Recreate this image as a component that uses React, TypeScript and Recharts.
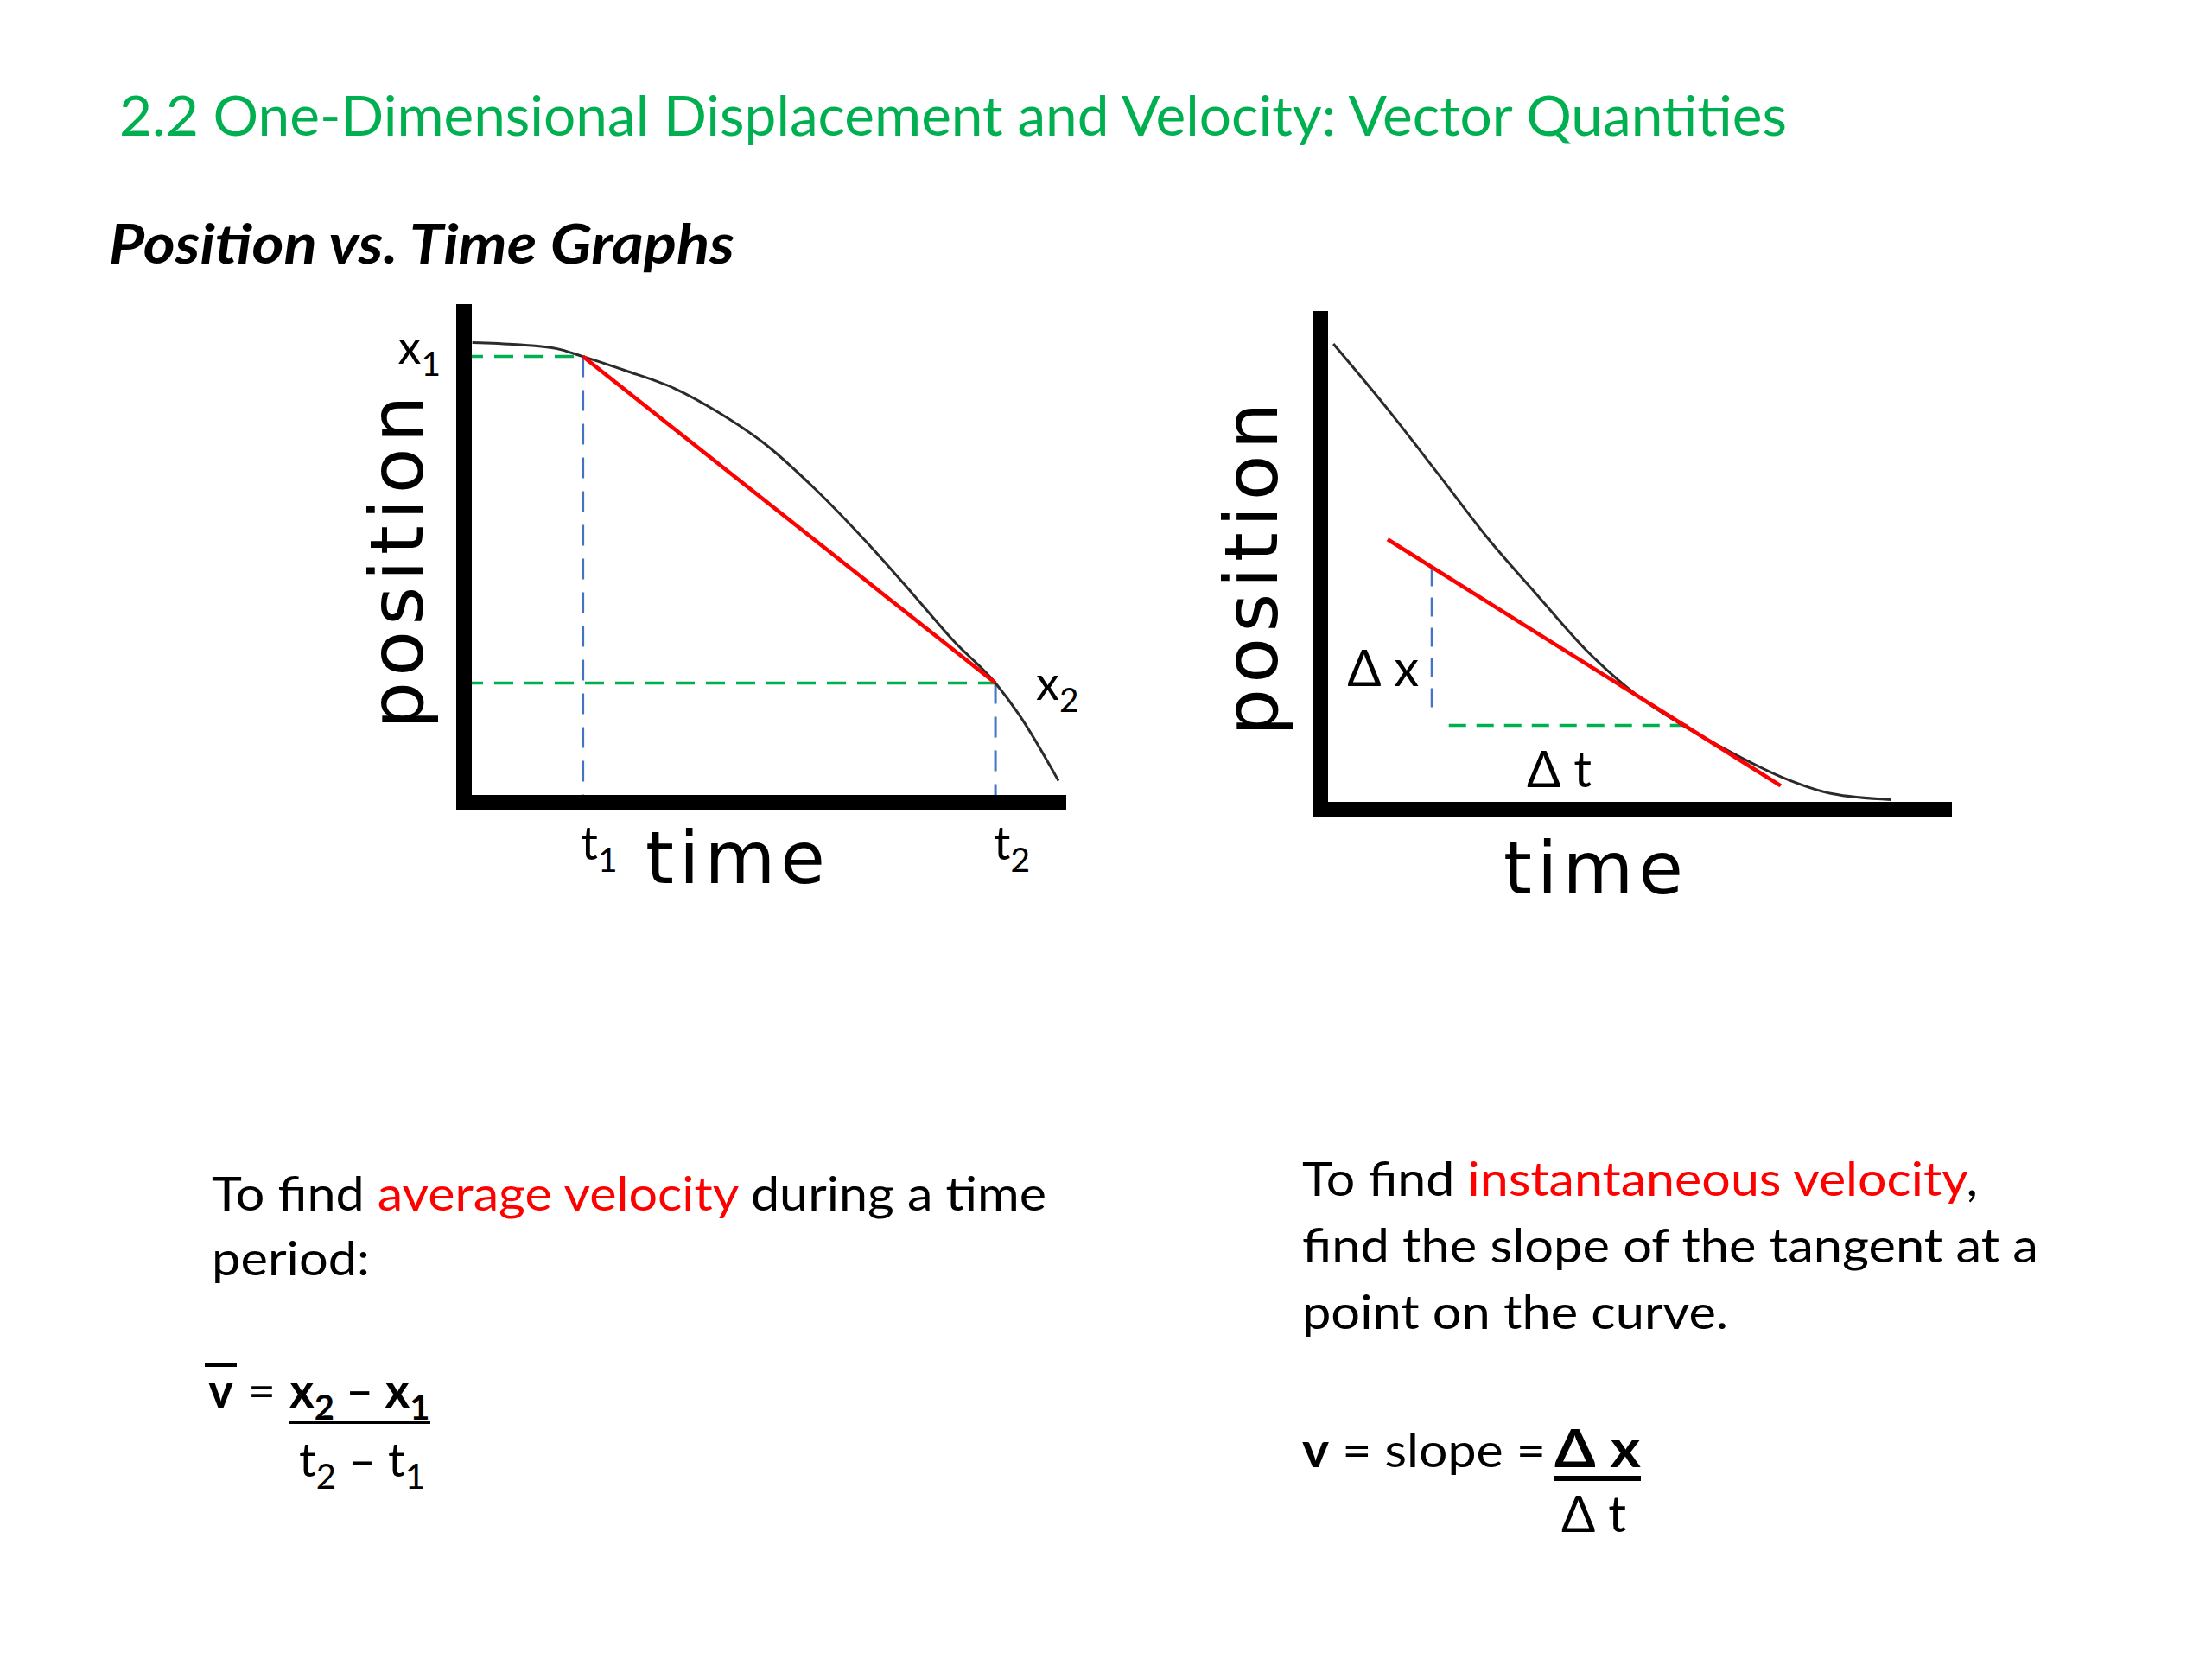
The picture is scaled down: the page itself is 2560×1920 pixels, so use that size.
import React from "react";
import { LineChart, Line, XAxis, YAxis, ReferenceLine, ReferenceDot, Label } from "recharts";

// values are read off the slide as % of each axis span
// left graph: average velocity
const avgTime = [1.4, 8.9, 15.5, 20.0, 27.1, 35.4, 42.8, 50.8, 59.0, 67.7, 75.4, 82.4, 89.4, 93.4, 100];
const avgPosition = [92.3, 91.9, 91.1, 89.5, 86.7, 83.1, 78.3, 71.8, 63.0, 52.3, 42.0, 32.4, 24.0, 17.6, 4.4];
const avgTimeTicks = [20.0, 89.4];
const avgPositionTicks = [89.5, 24.0];
const tickSubs = ["1", "2"];

// right graph: instantaneous velocity
const instTime = [2.1, 11.2, 19.1, 27.0, 34.8, 42.7, 50.6, 58.4, 66.3, 74.2, 82.0, 91.5];
const instPosition = [93.4, 79.7, 67.0, 54.2, 43.0, 31.9, 23.1, 16.7, 11.2, 6.4, 3.2, 2.0];
const tangentTime = [10.8, 73.8];
const tangentPosition = [54.2, 4.8];
const riseTime = 17.9;
const risePosition = [48.6, 19.9];
const runPosition = 16.9;
const runTime = [20.6, 59.3];

const toPoints = (ts: number[], xs: number[]) => ts.map((t, i) => ({ t, x: xs[i] }));

const GREEN = "#00b050";
const RED = "#ff0000";
const BLUE = "#4472c4";
const CURVE = "#2b2b2b";
const BODY = "Lato, 'Open Sans', sans-serif";
const GRAPH = "'DejaVu Sans', Verdana, sans-serif";

const xAxisLine = { stroke: "#000", strokeWidth: 18, strokeLinecap: "square" as const };
const yAxisLine = { stroke: "#000", strokeWidth: 18 };

function SubText({ x, y, base, sub, size = 54, anchor = "start", bold = false }: any) {
  return (
    <text x={x} y={y} textAnchor={anchor} fontFamily={BODY} fontSize={size} fontWeight={bold ? 700 : 400} fill="#000">
      {base}
      <tspan fontSize={size * 0.72} dy={size * 0.26}>{sub}</tspan>
    </text>
  );
}

const timeLabel = (dx: number, dy: number) => (p: any) => {
  const vb = p.viewBox;
  return (
    <text x={vb.x + vb.width / 2 + dx} y={vb.y + dy} textAnchor="middle" fontFamily={GRAPH} fontSize={84} letterSpacing={6} fill="#000">
      time
    </text>
  );
};

const positionLabel = (dx: number, dy: number) => (p: any) => {
  const vb = p.viewBox;
  const cx = vb.x + vb.width + dx;
  const cy = vb.y + vb.height / 2 + dy;
  return (
    <text x={cx} y={cy} transform={`rotate(-90 ${cx} ${cy})`} textAnchor="middle" fontFamily={GRAPH} fontSize={86} letterSpacing={6.5} fill="#000">
      position
    </text>
  );
};

function AverageGraph() {
  const curve = toPoints(avgTime, avgPosition);
  const secant = toPoints(avgTimeTicks, avgPositionTicks);
  const [t1, t2] = avgTimeTicks;
  const [x1, x2] = avgPositionTicks;
  return (
    <LineChart width={898} height={757} margin={{ top: 50, right: 60, left: 0, bottom: 0 }}>
      <XAxis
        type="number"
        dataKey="t"
        domain={[0, 100]}
        height={130}
        axisLine={xAxisLine}
        tickLine={false}
        ticks={avgTimeTicks}
        tick={(p: any) => <SubText key={p.index} x={p.x - 2} y={p.y + 58} base="t" sub={tickSubs[p.index]} />}
      >
        <Label content={timeLabel(-27, 93)} />
      </XAxis>
      <YAxis
        type="number"
        domain={[0, 100]}
        width={150}
        axisLine={yAxisLine}
        tickLine={false}
        ticks={[x1]}
        tick={(p: any) => <SubText key={p.index} x={p.x - 19} y={p.y + 8} base="x" sub="1" anchor="end" />}
      >
        <Label content={positionLabel(-48, 7)} />
      </YAxis>
      <ReferenceLine segment={[{ x: 0, y: x1 }, { x: t1, y: x1 }]} stroke={GREEN} strokeWidth={3.5} strokeDasharray="22 13" />
      <ReferenceLine segment={[{ x: 0, y: x2 }, { x: t2, y: x2 }]} stroke={GREEN} strokeWidth={3.5} strokeDasharray="22 13" />
      <ReferenceLine segment={[{ x: t1, y: x1 }, { x: t1, y: 0 }]} stroke={BLUE} strokeWidth={3} strokeDasharray="24 15" />
      <ReferenceLine segment={[{ x: t2, y: x2 }, { x: t2, y: 0 }]} stroke={BLUE} strokeWidth={3} strokeDasharray="24 15" />
      <Line data={curve} dataKey="x" type="monotone" stroke={CURVE} strokeWidth={3} dot={false} activeDot={false} isAnimationActive={false} />
      <Line data={secant} dataKey="x" type="linear" stroke={RED} strokeWidth={4.5} dot={false} activeDot={false} isAnimationActive={false} />
      <ReferenceDot
        x={t2}
        y={x2}
        r={1}
        fill="none"
        stroke="none"
        label={(p: any) => <SubText x={p.viewBox.x + 48} y={p.viewBox.y + 20} base="x" sub="2" />}
      />
    </LineChart>
  );
}

function InstantGraph() {
  const curve = toPoints(instTime, instPosition);
  const tangent = toPoints(tangentTime, tangentPosition);
  return (
    <LineChart width={932} height={757} margin={{ top: 50, right: 60, left: 0, bottom: 0 }}>
      <XAxis type="number" dataKey="t" domain={[0, 100]} height={130} axisLine={xAxisLine} tickLine={false} tick={false}>
        <Label content={timeLabel(-42, 97)} />
      </XAxis>
      <YAxis type="number" domain={[0, 100]} width={150} axisLine={yAxisLine} tickLine={false} tick={false}>
        <Label content={positionLabel(-50, 7)} />
      </YAxis>
      <ReferenceLine
        segment={[{ x: riseTime, y: risePosition[0] }, { x: riseTime, y: risePosition[1] }]}
        stroke={BLUE}
        strokeWidth={3}
        strokeDasharray="22 13"
        label={(p: any) => (
          <text x={p.viewBox.x - 15} y={p.viewBox.y + 137} textAnchor="end" fontFamily={BODY} fontSize={58} fill="#000">
            Δ x
          </text>
        )}
      />
      <ReferenceLine
        segment={[{ x: runTime[0], y: runPosition }, { x: runTime[1], y: runPosition }]}
        stroke={GREEN}
        strokeWidth={3.5}
        strokeDasharray="20 12"
        label={(p: any) => (
          <text x={p.viewBox.x + p.viewBox.width / 2 - 12} y={p.viewBox.y + 72} textAnchor="middle" fontFamily={BODY} fontSize={58} fill="#000">
            Δ t
          </text>
        )}
      />
      <Line data={curve} dataKey="x" type="monotone" stroke={CURVE} strokeWidth={3} dot={false} activeDot={false} isAnimationActive={false} />
      <Line data={tangent} dataKey="x" type="linear" stroke={RED} strokeWidth={4.5} dot={false} activeDot={false} isAnimationActive={false} />
    </LineChart>
  );
}

function SlideText() {
  const body = { fontFamily: BODY, fontSize: 55, fill: "#000" };
  return (
    <svg width={2560} height={1920} style={{ position: "absolute", left: 0, top: 0 }}>
      <text x={138} y={157} fontFamily={BODY} fontSize={64} fill={GREEN} textLength={1930} lengthAdjust="spacingAndGlyphs">
        2.2 One-Dimensional Displacement and Velocity: Vector Quantities
      </text>
      <text x={126} y={305} fontFamily={BODY} fontSize={64} fontWeight={700} fontStyle="italic" fill="#000" textLength={724} lengthAdjust="spacingAndGlyphs">
        Position vs. Time Graphs
      </text>

      {/* average velocity */}
      <text x={245} y={1401} {...body} textLength={966} lengthAdjust="spacingAndGlyphs">
        To find <tspan fill={RED}>average velocity</tspan> during a time
      </text>
      <text x={245} y={1476} {...body} textLength={183} lengthAdjust="spacingAndGlyphs">
        period:
      </text>
      <line x1={237} x2={274} y1={1580} y2={1580} stroke="#000" strokeWidth={4} />
      <text x={241} y={1629} {...body} fontWeight={700}>v</text>
      <text x={287} y={1629} {...body}>=</text>
      <text x={335} y={1629} {...body} fontWeight={700}>
        x<tspan fontSize={40} dy={14}>2</tspan>
        <tspan dy={-14}> – x</tspan>
        <tspan fontSize={40} dy={14}>1</tspan>
      </text>
      <line x1={335} x2={498} y1={1646} y2={1646} stroke="#000" strokeWidth={4} />
      <text x={346} y={1709} {...body}>
        t<tspan fontSize={40} dy={14}>2</tspan>
        <tspan dy={-14}> – t</tspan>
        <tspan fontSize={40} dy={14}>1</tspan>
      </text>

      {/* instantaneous velocity */}
      <text x={1507} y={1384} {...body} textLength={782} lengthAdjust="spacingAndGlyphs">
        To find <tspan fill={RED}>instantaneous velocity</tspan>,
      </text>
      <text x={1507} y={1461} {...body} textLength={852} lengthAdjust="spacingAndGlyphs">
        find the slope of the tangent at a
      </text>
      <text x={1507} y={1538} {...body} textLength={493} lengthAdjust="spacingAndGlyphs">
        point on the curve.
      </text>
      <text x={1507} y={1698} {...body} textLength={282} lengthAdjust="spacingAndGlyphs">
        <tspan fontWeight={700}>v</tspan> = slope =
      </text>
      <text x={1799} y={1698} {...body} fontSize={62} fontWeight={700} textLength={100} lengthAdjust="spacingAndGlyphs">Δ x</text>
      <line x1={1799} x2={1899} y1={1711} y2={1711} stroke="#000" strokeWidth={6} />
      <text x={1807} y={1773} {...body} fontSize={58}>Δ t</text>
    </svg>
  );
}

export default function App() {
  return (
    <div style={{ position: "absolute", left: 0, top: 0, width: 2560, height: 1920, background: "#fff" }}>
      <SlideText />
      <div style={{ position: "absolute", left: 387, top: 302 }}>
        <AverageGraph />
      </div>
      <div style={{ position: "absolute", left: 1378, top: 310 }}>
        <InstantGraph />
      </div>
    </div>
  );
}
